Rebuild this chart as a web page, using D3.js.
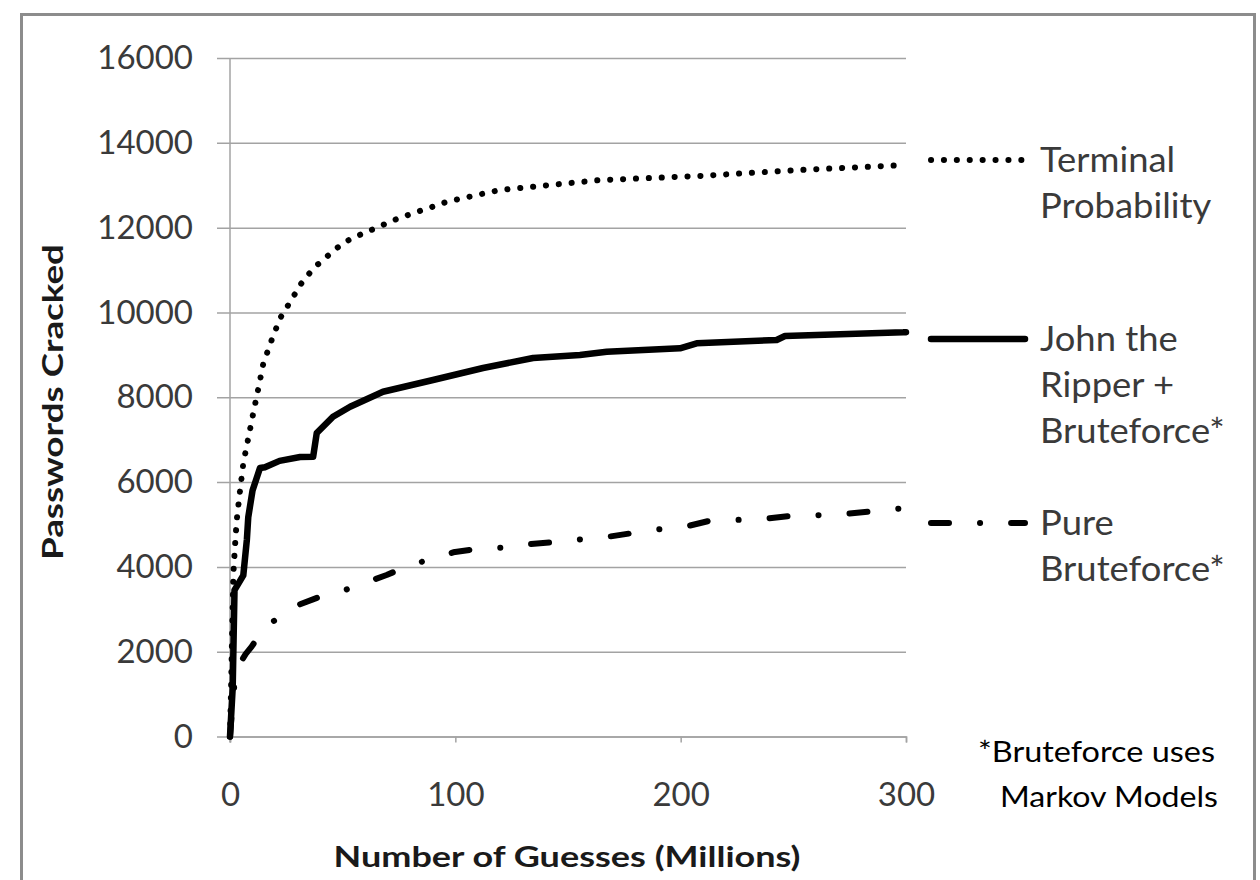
<!DOCTYPE html>
<html lang="en">
<head>
    <meta charset="UTF-8">
    <title>Passwords Cracked vs Number of Guesses</title>
    <script src="https://d3js.org/d3.v7.min.js"></script>
    <style>
        body {
            margin: 0;
            padding: 0;
            background-color: #ffffff;
            font-family: 'Lato', 'Open Sans', sans-serif;
        }
        .grid line { stroke: #a3a3a3; stroke-width: 1.5; }
        .tick text { fill: #3a3a3a; font-size: 33px; font-family: 'Lato', sans-serif; }
        .legend-text { fill: #3a3a3a; font-size: 34px; }
    </style>
</head>
<body>
    <svg id="chart"></svg>

    <script>
        // Axis ticks
        const xTicks = [0, 100, 200, 300];
        const yTicks = [0, 2000, 4000, 6000, 8000, 10000, 12000, 14000, 16000];

        // Terminal Probability (dotted)
        const terminalGuesses = [0, 0.5, 1, 1.5, 2.2, 3, 4.4, 5.9, 8.1, 10.3, 12.6, 14.8, 18.5, 22.2, 25.4, 28.1, 31.1, 34, 37.7, 41.4, 45.4, 49.6, 54, 59.2, 64.4, 69.5, 74.7, 79.9, 85.5, 91, 96.2, 120, 164, 209, 253, 300];
        const terminalCracked = [0, 1200, 2600, 3850, 4475, 5105, 5772, 6442, 7031, 7621, 8210, 8800, 9350, 9861, 10135, 10370, 10646, 10842, 11078, 11236, 11432, 11606, 11747, 11865, 11983, 12101, 12219, 12313, 12415, 12509, 12611, 12890, 13120, 13220, 13360, 13476];

        // John the Ripper + Bruteforce* (solid)
        const jtrGuesses = [0, 1.2, 2, 5.9, 7.5, 8.1, 10, 13.3, 15.5, 22, 31.1, 36.9, 38.5, 45.7, 53.3, 67.9, 90.1, 112.3, 134.5, 155.3, 167.2, 199.7, 207.1, 242.6, 246.3, 298.8, 300];
        const jtrCracked = [0, 1150, 3450, 3800, 4650, 5170, 5800, 6330, 6350, 6500, 6590, 6598, 7156, 7541, 7777, 8130, 8406, 8689, 8925, 8996, 9074, 9154, 9272, 9350, 9444, 9531, 9535];

        // Pure Bruteforce* (dash-dot)
        const pureGuesses = [0, 1, 2, 3, 4.4, 7, 9.6, 14.8, 22.9, 30.3, 39.9, 51, 59.2, 69.5, 79.9, 88, 99.1, 111, 121.3, 133.1, 146.5, 156, 167.9, 179.7, 190.1, 201.9, 213, 223.4, 236, 248.5, 259.6, 272.2, 283.3, 294.4, 300];
        const pureCracked = [0, 700, 1250, 1550, 1726, 1950, 2118, 2530, 2865, 3101, 3297, 3454, 3612, 3808, 4044, 4162, 4343, 4438, 4452, 4539, 4594, 4650, 4711, 4806, 4885, 4947, 5089, 5105, 5129, 5200, 5216, 5247, 5301, 5357, 5390];

        const seriesNames = [
            ["Terminal", "Probability"],
            ["John the", "Ripper +", "Bruteforce*"],
            ["Pure", "Bruteforce*"]
        ];

        const width = 1260;
        const height = 880;

        const svg = d3.select("#chart")
            .attr("width", width)
            .attr("height", height);

        // outer frame (bottom edge runs off the picture)
        svg.append("rect")
            .attr("x", 21.5).attr("y", 14.5)
            .attr("width", 1233).attr("height", 900)
            .attr("fill", "none")
            .attr("stroke", "#8c8c8c")
            .attr("stroke-width", 3);

        const x = d3.scaleLinear().domain([0, 300]).range([230, 906]);
        const y = d3.scaleLinear().domain([0, 16000]).range([736.5, 58]);

        // horizontal gridlines + y labels (ticks reach left of the axis)
        const gridLeft = 217;
        svg.append("g")
            .attr("class", "grid")
            .attr("transform", `translate(${x(300)},0)`)
            .call(d3.axisLeft(y).tickValues(yTicks).tickSize(x(300) - gridLeft).tickPadding(24).tickFormat(d3.format("d")))
            .call(g => g.select(".domain").remove());

        // y axis line
        svg.append("line")
            .attr("x1", x(0)).attr("x2", x(0))
            .attr("y1", y(16000)).attr("y2", y(0) + 6)
            .attr("stroke", "#a3a3a3").attr("stroke-width", 1.5);

        // x axis
        svg.append("g")
            .attr("class", "grid")
            .attr("transform", `translate(0,${y(0)})`)
            .call(d3.axisBottom(x).tickValues(xTicks).tickSize(6).tickPadding(40))
            .call(g => g.select(".domain").attr("stroke", "#a3a3a3").attr("stroke-width", 1.5));

        // axis titles (the source picture is stretched sideways, so fit the width)
        svg.append("text")
            .attr("transform", "translate(63,402) rotate(-90)")
            .attr("text-anchor", "middle")
            .attr("font-size", 29)
            .attr("font-weight", "bold")
            .attr("fill", "#1a1a1a")
            .attr("textLength", 316)
            .attr("lengthAdjust", "spacingAndGlyphs")
            .text("Passwords Cracked");

        svg.append("text")
            .attr("x", 567).attr("y", 867)
            .attr("text-anchor", "middle")
            .attr("font-size", 28)
            .attr("font-weight", "bold")
            .attr("fill", "#1a1a1a")
            .attr("textLength", 467)
            .attr("lengthAdjust", "spacingAndGlyphs")
            .text("Number of Guesses (Millions)");

        // series
        const line = d3.line().x(d => x(d[0])).y(d => y(d[1]));
        const series = [
            { g: terminalGuesses, c: terminalCracked, width: 6, dash: "0.1 12.8", legendY: 160 },
            { g: jtrGuesses, c: jtrCracked, width: 6.5, dash: null, legendY: 339 },
            { g: pureGuesses, c: pureCracked, width: 6, dash: "18 31 0.1 31", legendY: 523 }
        ];

        series.forEach((s, i) => {
            svg.append("path")
                .datum(d3.zip(s.g, s.c))
                .attr("d", line)
                .attr("fill", "none")
                .attr("stroke", "#000")
                .attr("stroke-width", s.width)
                .attr("stroke-linecap", "round")
                .attr("stroke-linejoin", "round")
                .attr("stroke-dasharray", s.dash);

            // legend line
            svg.append("line")
                .attr("x1", 931).attr("x2", 1025)
                .attr("y1", s.legendY).attr("y2", s.legendY)
                .attr("stroke", "#000")
                .attr("stroke-width", s.width)
                .attr("stroke-linecap", "round")
                .attr("stroke-dasharray", s.dash);

            // legend text
            const t = svg.append("text")
                .attr("class", "legend-text")
                .attr("transform", `translate(1040,${s.legendY + 12}) scale(1.07,1)`);
            seriesNames[i].forEach((ln, j) => {
                t.append("tspan")
                    .attr("x", 0)
                    .attr("dy", j === 0 ? 0 : 46)
                    .text(ln);
            });
        });

        // footnote
        svg.append("text")
            .attr("x", 978).attr("y", 762)
            .attr("font-size", 28)
            .attr("fill", "#000")
            .attr("textLength", 237)
            .attr("lengthAdjust", "spacingAndGlyphs")
            .text("*Bruteforce uses");
        svg.append("text")
            .attr("x", 1000).attr("y", 807)
            .attr("font-size", 28)
            .attr("fill", "#000")
            .attr("textLength", 218)
            .attr("lengthAdjust", "spacingAndGlyphs")
            .text("Markov Models");
    </script>
</body>
</html>
